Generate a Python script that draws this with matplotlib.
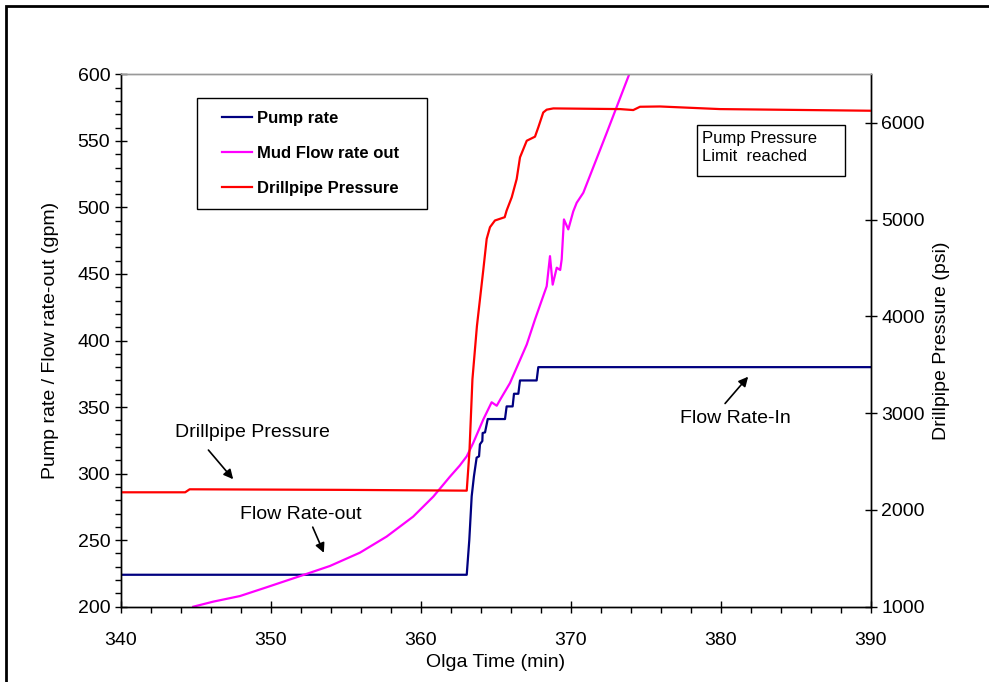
import matplotlib
matplotlib.use("Agg")
import matplotlib.pyplot as plt
from matplotlib.patches import Rectangle
from matplotlib.legend_handler import HandlerLine2D
from matplotlib.ticker import MultipleLocator

plt.rcParams["font.family"] = ["Liberation Sans", "DejaVu Sans"]

# Pump rate (gpm)
pump_t = [340, 363.07, 363.24, 363.4, 363.55, 363.73, 363.89, 363.95, 364.11, 364.13,
          364.29, 364.47, 365.62, 365.73, 366.13, 366.22, 366.51, 366.62, 367.73, 367.84, 390]
pump_q = [224, 224, 250, 283, 298, 312, 313, 322, 324.5, 330.5,
          331, 341, 341, 350.5, 350.5, 360, 360, 370, 370, 380, 380]

# Mud flow rate out (gpm)
mud_t = [344.84, 346.17, 347.95, 349.73, 352.17, 353.95, 355.95, 357.73, 359.5, 360.84,
         361.95, 362.6, 363.07, 363.5, 364.17, 364.73, 365.07, 365.3, 365.95, 367.07,
         367.62, 368.4, 368.62, 368.8, 369.07, 369.3, 369.4, 369.55, 369.84, 370.17,
         370.4, 370.84, 372.4, 373.9]
mud_q = [200, 203.8, 208, 214.6, 223.8, 230.6, 240.6, 252.7, 267.7, 282.7,
         297.7, 306, 313, 323, 340.6, 353.6, 351, 355.6, 368, 397,
         415.8, 440.8, 463.4, 442, 454.7, 453, 461, 491, 483.5, 497,
         503.5, 511, 556, 600]

# Drillpipe pressure (psi)
dp_t = [340, 344.3, 344.6, 355, 363.07, 363.25, 363.45, 363.75, 364.17, 364.4, 364.62,
        364.95, 365.6, 365.73, 366.07, 366.4, 366.62, 367.07, 367.62, 367.84, 368.17,
        368.4, 368.84, 373.29, 374.17, 374.62, 375.95, 379.95, 390]
dp_p = [2182, 2182, 2213, 2207, 2199, 2600, 3350, 3900, 4474, 4800, 4921,
        4990, 5024, 5093, 5230, 5419, 5642, 5814, 5856, 5952, 6106,
        6135, 6148, 6141, 6131, 6165, 6168, 6141, 6124]

fig = plt.figure(figsize=(9.89, 6.82), dpi=100)
ax = fig.add_axes([0.122, 0.1104, 0.7584, 0.7806])
ax2 = ax.twinx()

l1, = ax.plot(pump_t, pump_q, color="#000080", lw=1.6, label="Pump rate")
l2, = ax.plot(mud_t, mud_q, color="#FF00FF", lw=1.6, label="Mud Flow rate out")
l3, = ax2.plot(dp_t, dp_p, color="#FF0000", lw=1.6, label="Drillpipe Pressure")

ax.set_xlim(340, 390)
ax.set_ylim(200, 600)
ax2.set_ylim(1000, 6500)

ax.xaxis.set_major_locator(MultipleLocator(10))
ax.xaxis.set_minor_locator(MultipleLocator(2))
ax.yaxis.set_major_locator(MultipleLocator(50))
ax.yaxis.set_minor_locator(MultipleLocator(10))
ax2.set_yticks([1000, 2000, 3000, 4000, 5000, 6000])

for a in (ax, ax2):
    a.spines["top"].set_color("#999999")
    a.spines["top"].set_linewidth(1)
    for s in ("left", "right", "bottom"):
        a.spines[s].set_linewidth(1)

ax.tick_params(which="major", direction="inout", length=8, width=1, labelsize=14)
ax.tick_params(which="minor", direction="out", length=4, width=1)
ax.tick_params(axis="x", pad=14)
ax2.tick_params(which="major", direction="inout", length=8, width=1, labelsize=14)

ax.set_xlabel("Olga Time (min)", fontsize=14, labelpad=4)
ax.set_ylabel("Pump rate / Flow rate-out (gpm)", fontsize=14, labelpad=13)
ax2.set_ylabel("Drillpipe Pressure (psi)", fontsize=14, labelpad=6)

leg = ax2.legend(handles=[l1, l2, l3], loc="upper left",
                 bbox_to_anchor=(0.1013, 0.745, 0.3067, 0.211), mode="expand",
                 fancybox=False, edgecolor="black", framealpha=1, borderpad=0.8,
                 labelspacing=1.2, handlelength=2.5, handletextpad=0.3,
                 borderaxespad=0, prop={"weight": "bold", "size": 12},
                 handler_map={l: HandlerLine2D(xpad=0.75) for l in (l1, l2, l3)})
leg.get_frame().set_linewidth(1)

# text box with fixed size, like the original
ax2.add_patch(Rectangle((0.7688, 0.809), 0.1969, 0.096, transform=ax2.transAxes,
                        fc="white", ec="black", lw=1, zorder=4))
ax2.text(0.7747, 0.8623, "Pump Pressure\nLimit  reached", transform=ax2.transAxes,
         fontsize=12, va="center", ha="left", linespacing=1.3, zorder=5)

arrow = dict(arrowstyle="-|>", color="black", lw=1.2, mutation_scale=14)
ax.text(343.6, 330.8, "Drillpipe Pressure", fontsize=14, va="center", ha="left")
ax.annotate("", xy=(347.62, 294.2), xytext=(345.73, 319.3), arrowprops=arrow)
ax.text(347.95, 269.2, "Flow Rate-out", fontsize=14, va="center", ha="left")
ax.annotate("", xy=(353.62, 238.6), xytext=(352.73, 261.7), arrowprops=arrow)
ax.text(377.29, 341.1, "Flow Rate-In", fontsize=14, va="center", ha="left")
ax.annotate("", xy=(381.95, 374.4), xytext=(380.17, 351.1), arrowprops=arrow)

fig.patches.append(Rectangle((6 / 989, -0.1), 1.2, 1.1 - 6 / 682, transform=fig.transFigure,
                             fill=False, ec="black", lw=2, clip_on=False))

fig.savefig("out.png", dpi=100)
